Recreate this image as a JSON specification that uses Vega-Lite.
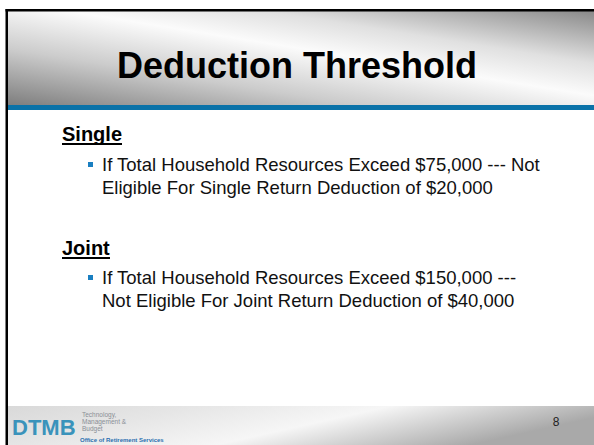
{
  "$schema": "https://vega.github.io/schema/vega-lite/v6.json",
  "width": 594,
  "height": 445,
  "autosize": {"type": "fit", "contains": "padding"},
  "padding": 0,
  "background": "white",
  "config": {"view": {"stroke": null}, "axis": {"disable": true}},
  "datasets": {
    "panels": [
      {"part": "header", "x0": 8, "x1": 594, "y0": 11, "y1": 105},
      {"part": "footer", "x0": 8, "x1": 594, "y0": 406, "y1": 445}
    ],
    "bars": [
      {"part": "blue", "x0": 8, "x1": 594, "y0": 105, "y1": 110, "c": "blue"},
      {"part": "left", "x0": 5.5, "x1": 8, "y0": 9, "y1": 445, "c": "black"},
      {"part": "top", "x0": 5.5, "x1": 594, "y0": 9, "y1": 11.5, "c": "black"}
    ],
    "headings": [
      {"label": "Single", "x": 62, "y": 141, "ux": 122},
      {"label": "Joint", "x": 62, "y": 255, "ux": 110}
    ],
    "bullets": [
      {"x": 90.5, "y": 164.5},
      {"x": 90.5, "y": 277.5}
    ],
    "lines": [
      {"label": "If Total Household Resources Exceed $75,000 --- Not", "x": 102, "y": 171},
      {"label": "Eligible For Single Return Deduction of $20,000", "x": 102, "y": 194},
      {"label": "If Total Household Resources Exceed $150,000 ---", "x": 102, "y": 284},
      {"label": "Not Eligible For Joint Return Deduction of $40,000", "x": 102, "y": 307}
    ],
    "title": [{"label": "Deduction Threshold", "x": 297, "y": 78}],
    "page": [{"label": "8", "x": 556, "y": 426}],
    "logo": [{"label": "DTMB", "x": 12, "y": 435}],
    "logosmall": [
      {"label": "Technology,", "x": 82, "y": 417},
      {"label": "Management &", "x": 82, "y": 424},
      {"label": "Budget", "x": 82, "y": 431}
    ],
    "office": [{"label": "Office of Retirement Services", "x": 80, "y": 441.5}]
  },
  "layer": [
    {
      "data": {"name": "panels"},
      "transform": [{"filter": "datum.part == 'header'"}],
      "mark": {
        "type": "rect",
        "fill": {
          "gradient": "linear", "x1": 0, "y1": 1, "x2": 1, "y2": 0,
          "stops": [
            {"offset": 0, "color": "#7e7e7e"},
            {"offset": 0.3, "color": "#cccccc"},
            {"offset": 0.55, "color": "#fbfbfb"},
            {"offset": 0.72, "color": "#e0e0e0"},
            {"offset": 1, "color": "#898989"}
          ]
        }
      },
      "encoding": {
        "x": {"field": "x0", "type": "quantitative", "scale": {"domain": [0, 594], "nice": false, "zero": false}, "axis": null},
        "x2": {"field": "x1"},
        "y": {"field": "y0", "type": "quantitative", "scale": {"domain": [0, 445], "nice": false, "zero": false, "reverse": true}, "axis": null},
        "y2": {"field": "y1"}
      }
    },
    {
      "data": {"name": "panels"},
      "transform": [{"filter": "datum.part == 'footer'"}],
      "mark": {
        "type": "rect",
        "fill": {
          "gradient": "linear", "x1": 0, "y1": 0, "x2": 1, "y2": 0.3,
          "stops": [
            {"offset": 0, "color": "#d9d9d9"},
            {"offset": 0.3, "color": "#e6e6e6"},
            {"offset": 0.6, "color": "#f6f6f6"},
            {"offset": 1, "color": "#a9a9a9"}
          ]
        }
      },
      "encoding": {
        "x": {"field": "x0", "type": "quantitative", "scale": {"domain": [0, 594], "nice": false, "zero": false}, "axis": null},
        "x2": {"field": "x1"},
        "y": {"field": "y0", "type": "quantitative", "scale": {"domain": [0, 445], "nice": false, "zero": false, "reverse": true}, "axis": null},
        "y2": {"field": "y1"}
      }
    },
    {
      "data": {"name": "bars"},
      "mark": {"type": "rect"},
      "encoding": {
        "x": {"field": "x0", "type": "quantitative", "axis": null},
        "x2": {"field": "x1"},
        "y": {"field": "y0", "type": "quantitative", "axis": null},
        "y2": {"field": "y1"},
        "color": {"field": "c", "type": "nominal", "scale": {"domain": ["blue", "black"], "range": ["#0a72a8", "#000000"]}, "legend": null}
      }
    },
    {
      "data": {"name": "title"},
      "mark": {"type": "text", "font": "Liberation Sans", "fontWeight": "bold", "fontSize": 36, "align": "center", "baseline": "alphabetic", "color": "#000000"},
      "encoding": {
        "x": {"field": "x", "type": "quantitative", "axis": null},
        "y": {"field": "y", "type": "quantitative", "axis": null},
        "text": {"field": "label"}
      }
    },
    {
      "data": {"name": "headings"},
      "mark": {"type": "text", "font": "Liberation Sans", "fontWeight": "bold", "fontSize": 20, "align": "left", "baseline": "alphabetic", "color": "#000000"},
      "encoding": {
        "x": {"field": "x", "type": "quantitative", "axis": null},
        "y": {"field": "y", "type": "quantitative", "axis": null},
        "text": {"field": "label"}
      }
    },
    {
      "data": {"name": "headings"},
      "transform": [{"calculate": "datum.y + 3", "as": "uy"}],
      "mark": {"type": "rule", "color": "#000000", "strokeWidth": 2},
      "encoding": {
        "x": {"field": "x", "type": "quantitative", "axis": null},
        "x2": {"field": "ux"},
        "y": {"field": "uy", "type": "quantitative", "axis": null}
      }
    },
    {
      "data": {"name": "bullets"},
      "mark": {"type": "square", "size": 25, "filled": true, "color": "#1a7fc1", "opacity": 1},
      "encoding": {
        "x": {"field": "x", "type": "quantitative", "axis": null},
        "y": {"field": "y", "type": "quantitative", "axis": null}
      }
    },
    {
      "data": {"name": "lines"},
      "mark": {"type": "text", "font": "Liberation Sans", "fontSize": 18.5, "align": "left", "baseline": "alphabetic", "color": "#111111"},
      "encoding": {
        "x": {"field": "x", "type": "quantitative", "axis": null},
        "y": {"field": "y", "type": "quantitative", "axis": null},
        "text": {"field": "label"}
      }
    },
    {
      "data": {"name": "page"},
      "mark": {"type": "text", "font": "Liberation Sans", "fontSize": 12, "align": "center", "baseline": "alphabetic", "color": "#222222"},
      "encoding": {
        "x": {"field": "x", "type": "quantitative", "axis": null},
        "y": {"field": "y", "type": "quantitative", "axis": null},
        "text": {"field": "label"}
      }
    },
    {
      "data": {"name": "logo"},
      "mark": {"type": "text", "font": "Liberation Sans", "fontWeight": "bold", "fontSize": 22, "align": "left", "baseline": "alphabetic", "color": "#3a93bb"},
      "encoding": {
        "x": {"field": "x", "type": "quantitative", "axis": null},
        "y": {"field": "y", "type": "quantitative", "axis": null},
        "text": {"field": "label"}
      }
    },
    {
      "data": {"name": "logosmall"},
      "mark": {"type": "text", "font": "Liberation Sans", "fontSize": 6.5, "align": "left", "baseline": "alphabetic", "color": "#8a8f96"},
      "encoding": {
        "x": {"field": "x", "type": "quantitative", "axis": null},
        "y": {"field": "y", "type": "quantitative", "axis": null},
        "text": {"field": "label"}
      }
    },
    {
      "data": {"name": "office"},
      "mark": {"type": "text", "font": "Liberation Sans", "fontWeight": "bold", "fontSize": 6, "align": "left", "baseline": "alphabetic", "color": "#2a6fb0"},
      "encoding": {
        "x": {"field": "x", "type": "quantitative", "axis": null},
        "y": {"field": "y", "type": "quantitative", "axis": null},
        "text": {"field": "label"}
      }
    }
  ]
}
